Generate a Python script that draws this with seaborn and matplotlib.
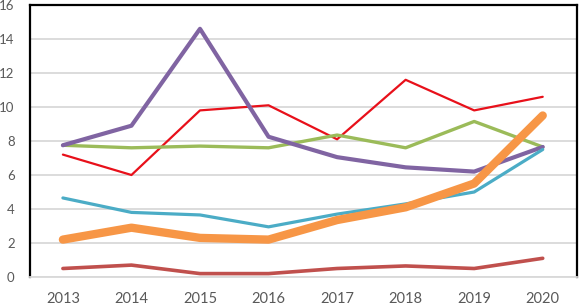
import numpy as np
import pandas as pd
import matplotlib
matplotlib.use("Agg")
import matplotlib.pyplot as plt
import seaborn as sns

years = [2013, 2014, 2015, 2016, 2017, 2018, 2019, 2020]

# series values
dark_red = [0.5, 0.7, 0.2, 0.2, 0.5, 0.65, 0.5, 1.1]
red = [7.2, 6.0, 9.8, 10.1, 8.1, 11.6, 9.8, 10.6]
green = [7.75, 7.6, 7.7, 7.6, 8.35, 7.6, 9.15, 7.65]
purple = [7.75, 8.9, 14.6, 8.25, 7.05, 6.45, 6.2, 7.65]
cyan = [4.65, 3.8, 3.65, 2.95, 3.7, 4.3, 5.0, 7.5]
orange = [2.2, 2.9, 2.3, 2.2, 3.35, 4.1, 5.5, 9.5]

y_ticks = [0, 2, 4, 6, 8, 10, 12, 14, 16]

sns.set_style("white")
plt.rcParams["font.family"] = ["Lato", "DejaVu Sans"]

fig = plt.figure(figsize=(5.8, 3.06), dpi=100)
ax = fig.add_axes([30 / 580, 29 / 306, 547 / 580, 272 / 306])

series = [
    (dark_red, "#C0504D", 2.6),
    (red, "#E8101A", 1.6),
    (green, "#9BBB59", 2.4),
    (purple, "#8064A2", 3.0),
    (cyan, "#4BACC6", 2.3),
    (orange, "#F79646", 6.0),
]
for vals, color, lw in series:
    sns.lineplot(x=years, y=vals, color=color, linewidth=lw, ax=ax,
                 solid_capstyle="round", solid_joinstyle="round")

ax.set_xlim(2012.52, 2020.5)
ax.set_ylim(0, 16)
ax.set_yticks(y_ticks)
ax.set_xticks(years)
ax.set_xticklabels([str(y) for y in years])
ax.yaxis.grid(True, color="#D9D9D9", lw=1.3)
ax.set_axisbelow(True)
ax.tick_params(axis="y", length=0, pad=11, labelsize=9.5, labelcolor="#595959")
ax.tick_params(axis="x", length=0, pad=11, labelsize=10.5, labelcolor="#595959")

for side in ["top", "left", "right"]:
    ax.spines[side].set_color("black")
    ax.spines[side].set_linewidth(1.6)
ax.spines["bottom"].set_color("#D9D9D9")
ax.spines["bottom"].set_linewidth(1.3)

fig.savefig("out.png", dpi=100)
